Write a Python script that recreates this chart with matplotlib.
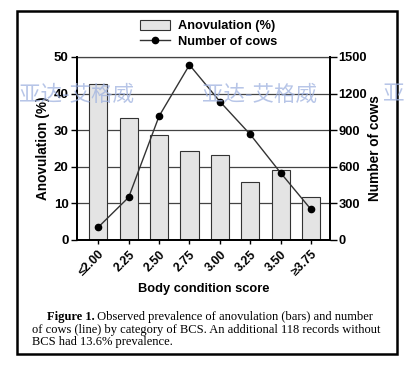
import matplotlib
matplotlib.use("Agg")
import matplotlib.pyplot as plt
from matplotlib.patches import Rectangle

# data
categories = ["≤2.00", "2.25", "2.50", "2.75", "3.00", "3.25", "3.50", "≥3.75"]
anovulation = [42.7, 33.2, 28.8, 24.4, 23.3, 15.8, 19.0, 11.8]
cows = [105, 350, 1015, 1435, 1135, 865, 550, 250]

caption_lines = [
    ("Figure 1.", " Observed prevalence of anovulation (bars) and number"),
    ("", "of cows (line) by category of BCS. An additional 118 records without"),
    ("", "BCS had 13.6% prevalence."),
]

plt.rcParams['font.family'] = ['Liberation Sans', 'DejaVu Sans']
plt.rcParams['font.weight'] = 'bold'

fig = plt.figure(figsize=(4.04, 3.65), dpi=100)
fig.patches.append(Rectangle((0.042, 0.030), 0.9406, 0.940, transform=fig.transFigure,
                             fill=False, edgecolor='black', linewidth=1.8))

ax = fig.add_axes([0.1906, 0.3425, 0.626, 0.5014])
x = list(range(len(categories)))
bars = ax.bar(x, anovulation, width=0.6, color='#e4e4e4', edgecolor='#333333',
              linewidth=0.8, label='Anovulation (%)', zorder=2)
ax.set_ylim(0, 50)
ax.set_yticks([0, 10, 20, 30, 40, 50])
ax.set_xlim(-0.7, 7.62)
ax.yaxis.grid(True, color='#444444', linewidth=0.9, zorder=0)
ax.set_axisbelow(True)
ax.set_xticks(x)
ax.set_xticklabels(categories, rotation=45, ha='right', rotation_mode='anchor', fontsize=8.8)
ax.tick_params(axis='y', labelsize=9.5, length=4, width=1, pad=2)
ax.tick_params(axis='x', length=3, width=1, pad=3)
ax.set_ylabel("Anovulation (%)", fontsize=9.8, fontweight='bold', labelpad=3)
ax.set_xlabel("Body condition score", fontsize=9.3, fontweight='bold', labelpad=3)
for s in ax.spines.values():
    s.set_linewidth(1.3)
ax.spines['top'].set_color('#444444')
ax.spines['top'].set_linewidth(0.9)

ax2 = ax.twinx()
line, = ax2.plot(x, cows, color='#333333', linewidth=1.0, marker='o', markersize=4.5,
                 markerfacecolor='black', markeredgecolor='black', label='Number of cows')
ax2.set_ylim(0, 1500)
ax2.set_yticks([0, 300, 600, 900, 1200, 1500])
ax2.tick_params(axis='y', labelsize=9.3, length=5, width=1, pad=1)
ax2.set_ylabel("Number of cows", fontsize=9.8, fontweight='bold', labelpad=1)
for s in ax2.spines.values():
    s.set_linewidth(1.3)
ax2.spines['top'].set_visible(False)

ax.legend([bars, line], ['Anovulation (%)', 'Number of cows'], loc='lower center',
          bbox_to_anchor=(0.52, 1.02), frameon=False, fontsize=9.2, handlelength=2.4,
          handleheight=0.9, labelspacing=0.2, borderaxespad=0.05, handletextpad=0.6)

# caption
ys = [0.123, 0.088, 0.055]
xs = [0.116, 0.079, 0.079]
for (bold, rest), xx, yy in zip(caption_lines, xs, ys):
    t = fig.text(xx, yy, bold, fontsize=9.0, family='Liberation Serif', fontweight='bold',
                 va='baseline')
    if bold:
        fig.canvas.draw()
        bb = t.get_window_extent()
        xx = bb.x1 / fig.bbox.width
    fig.text(xx, yy, rest, fontsize=9.0, family='Liberation Serif', fontweight='normal',
             va='baseline')

# watermarks
wm = dict(fontsize=15.5, color='#9fb2e0', alpha=0.75, family=['Noto Sans CJK SC', 'DejaVu Sans'],
          fontweight='normal', va='center', zorder=10)
fig.text(0.048, 0.74, "亚达-艾格威", **wm)
fig.text(0.50, 0.74, "亚达-艾格威", **wm)
fig.text(0.948, 0.74, "亚", **wm)

fig.savefig("out.png", dpi=100)
